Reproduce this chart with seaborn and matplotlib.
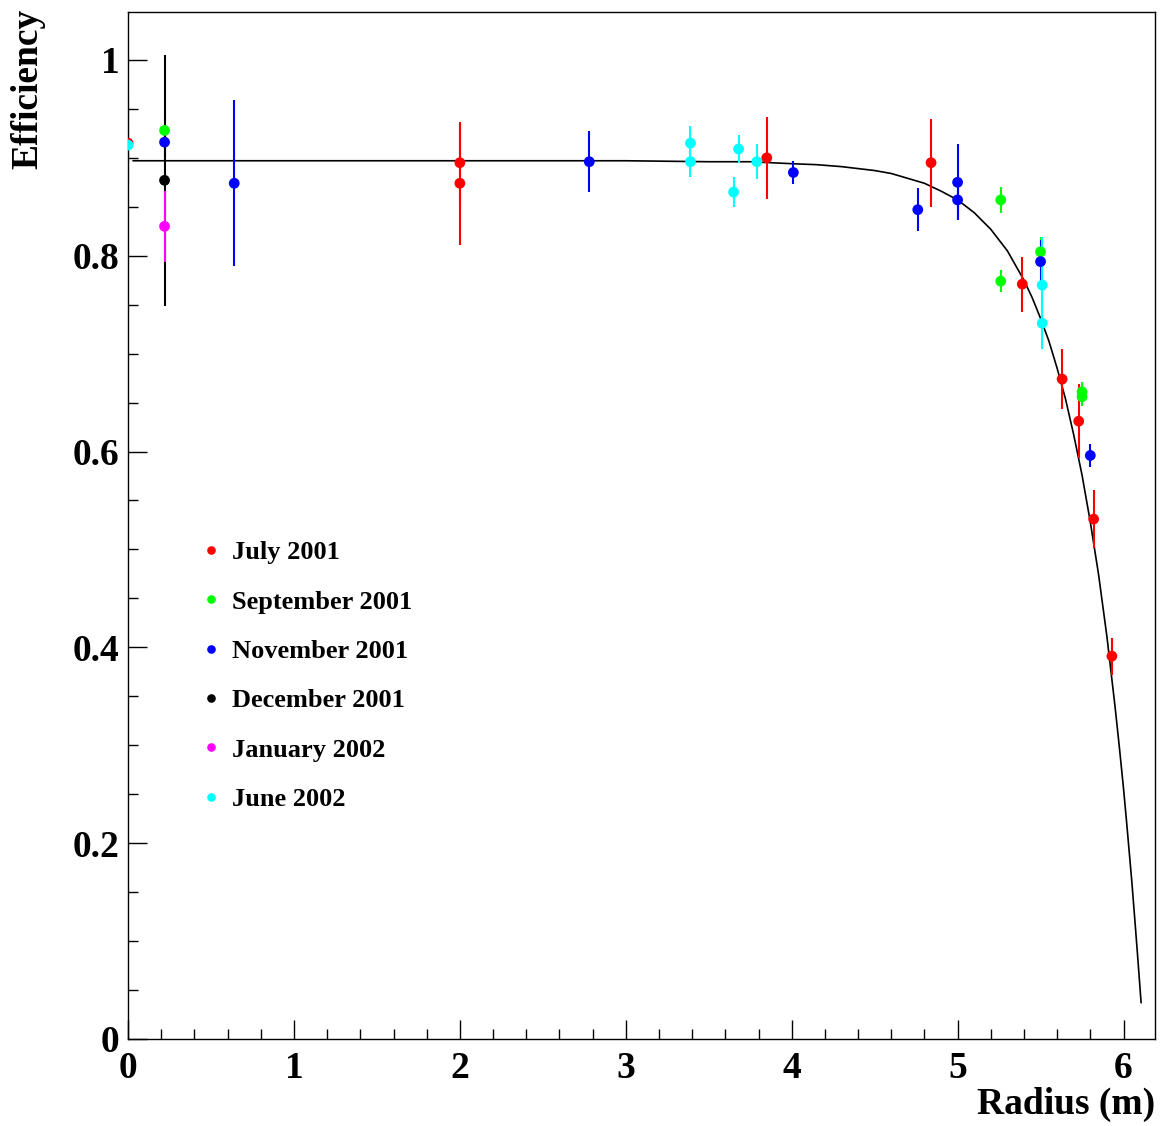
'''efficiency vs radius'''

import matplotlib
matplotlib.use('Agg')
import matplotlib.pyplot as plt
from matplotlib.ticker import MultipleLocator, FuncFormatter
import seaborn as sns
import pandas as pd

period = (['July 2001'] * 10 + ['September 2001'] * 6 + ['November 2001'] * 9
          + ['December 2001'] + ['January 2002'] + ['June 2002'] * 8)
radius = [0.0, 2.0, 2.0, 3.85, 4.84, 5.39, 5.63, 5.73, 5.82, 5.93,
          0.22, 5.26, 5.26, 5.50, 5.75, 5.75,
          0.22, 0.64, 2.78, 4.01, 4.76, 5.00, 5.00, 5.50, 5.80,
          0.22,
          0.22,
          0.0, 3.39, 3.39, 3.65, 3.68, 3.79, 5.51, 5.51]
efficiency = [0.915, 0.895, 0.874, 0.900, 0.895, 0.771, 0.674, 0.631, 0.531, 0.391,
              0.928, 0.857, 0.774, 0.804, 0.661, 0.656,
              0.916, 0.874, 0.896, 0.885, 0.847, 0.875, 0.857, 0.794, 0.596,
              0.877,
              0.830,
              0.913, 0.915, 0.896, 0.865, 0.909, 0.896, 0.770, 0.731]
error = [0.043, 0.040, 0.063, 0.042, 0.045, 0.028, 0.031, 0.038, 0.030, 0.019,
         0.012, 0.013, 0.011, 0.015, 0.010, 0.010,
         0.015, 0.085, 0.031, 0.012, 0.022, 0.039, 0.019, 0.022, 0.012,
         0.128,
         0.036,
         0.014, 0.018, 0.016, 0.015, 0.014, 0.018, 0.049, 0.026]

periods = ['July 2001', 'September 2001', 'November 2001',
           'December 2001', 'January 2002', 'June 2002']
colors = ['#ff0000', '#00ff00', '#0000ff', '#000000', '#ff00ff', '#00ffff']

# fitted curve, points
fit_r = [0.03, 1.0, 2.0, 3.0, 3.5, 3.75, 4.0, 4.15, 4.3, 4.4, 4.5, 4.6, 4.7,
         4.8, 4.9, 5.0, 5.1, 5.2, 5.3, 5.4, 5.45, 5.5, 5.55, 5.6, 5.65, 5.7,
         5.75, 5.8, 5.85, 5.9, 5.95, 5.975, 6.0, 6.02, 6.05, 6.07, 6.085,
         6.1, 6.106]
fit_eff = [0.897, 0.897, 0.897, 0.897, 0.896, 0.896, 0.894, 0.893, 0.891,
           0.889, 0.887, 0.884, 0.879, 0.874, 0.866, 0.857, 0.844, 0.827,
           0.805, 0.775, 0.757, 0.736, 0.713, 0.685, 0.654, 0.617, 0.576,
           0.528, 0.474, 0.411, 0.338, 0.298, 0.256, 0.219, 0.161, 0.118,
           0.085, 0.051, 0.037]

df = pd.DataFrame({'period': period, 'radius': radius,
                   'efficiency': efficiency, 'error': error})

sns.set_style('ticks')
plt.rcParams['font.family'] = ['Liberation Serif', 'DejaVu Serif']
plt.rcParams['font.weight'] = 'bold'
plt.rcParams['text.color'] = 'black'
plt.rcParams['xtick.color'] = 'black'
plt.rcParams['ytick.color'] = 'black'
plt.rcParams['axes.edgecolor'] = 'black'

fig = plt.figure(figsize=(11.62, 11.26), dpi=100)
ax = fig.add_axes([0.1102, 0.0773, 0.8838, 0.9121])

ax.plot(fit_r, fit_eff, color='black', lw=1.2, zorder=2)

for p, c in zip(periods, colors):
    sub = df[df['period'] == p]
    ax.errorbar(sub['radius'], sub['efficiency'], yerr=sub['error'], fmt='none',
                ecolor=c, elinewidth=1.5, capsize=0, zorder=2)

sns.scatterplot(data=df, x='radius', y='efficiency', hue='period',
                hue_order=periods, palette=colors, s=60, edgecolor='none',
                ax=ax, zorder=3)

ax.set_xlim(0, 6.19)
ax.set_ylim(0, 1.049)
ax.xaxis.set_major_locator(MultipleLocator(1))
ax.xaxis.set_minor_locator(MultipleLocator(0.2))
ax.yaxis.set_major_locator(MultipleLocator(0.2))
ax.yaxis.set_minor_locator(MultipleLocator(0.05))
ax.yaxis.set_major_formatter(FuncFormatter(lambda v, _: '%g' % round(v, 2)))
ax.tick_params(which='major', direction='in', length=14, width=1,
               labelsize=27, pad=6, colors='black')
ax.tick_params(which='minor', direction='in', length=7, width=1)
ax.tick_params(axis='x', pad=9)
for s in ax.spines.values():
    s.set_linewidth(1)
    s.set_color('black')
ax.set_xlabel('')
ax.set_ylabel('')

fig.text(0.024, 0.992, 'Efficiency', rotation=90, ha='center', va='top',
         fontsize=27, fontweight='bold')
fig.text(0.994, 0.0195, 'Radius (m)', ha='right', va='center',
         fontsize=27, fontweight='bold')

ax.legend(loc='upper left', bbox_to_anchor=(0.073, 0.485), frameon=False,
          handlelength=0.6, handletextpad=0.5, labelspacing=0.98,
          borderpad=0, borderaxespad=0, markerscale=0.8,
          prop={'weight': 'bold', 'size': 19})

fig.savefig('out.png', dpi=100)
